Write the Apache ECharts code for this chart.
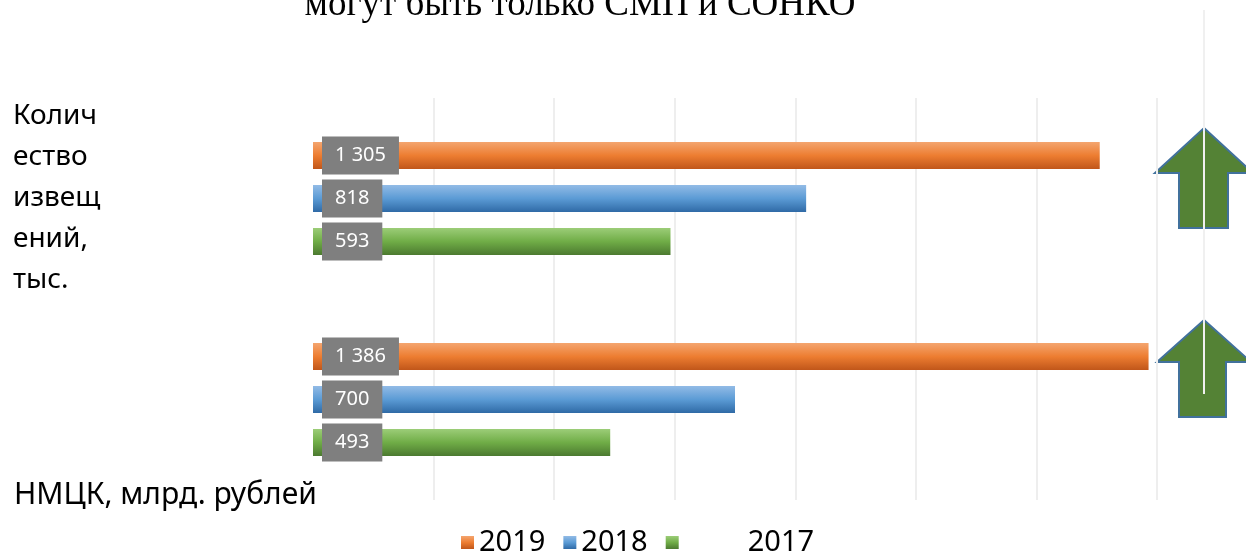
<!DOCTYPE html>
<html>
<head>
<meta charset="utf-8">
<script src="https://cdn.jsdelivr.net/npm/echarts@6/dist/echarts.min.js"></script>
<style>
  html, body { margin: 0; padding: 0; background: #fff; }
  #chart { width: 1246px; height: 551px; }
</style>
</head>
<body>
<div id="chart"></div>
<script>
// данные
var categories = ['Количество извещений, тыс.', 'НМЦК, млрд. рублей'];
var categoryText = ['Колич\nество\nизвещ\nений,\nтыс.', 'НМЦК, млрд. рублей'];
var seriesNames = ['2019', '2018', '2017'];
var values2019 = [1305, 1386];
var values2018 = [818, 700];
var values2017 = [593, 493];
var titleText = 'могут быть только СМП и СОНКО';

function grad(top, mid, bottom) {
  return new echarts.graphic.LinearGradient(0, 0, 0, 1, [
    { offset: 0, color: top },
    { offset: 0.5, color: mid },
    { offset: 1, color: bottom }
  ]);
}

function fmt(p) {
  return String(p.value).replace(/\B(?=(\d{3})+(?!\d))/g, ' ');
}

var label = {
  show: true,
  position: 'insideLeft',
  distance: 9,
  formatter: fmt,
  color: '#fff',
  backgroundColor: '#7f7f7f',
  padding: [9, 13],
  fontSize: 20,
  fontFamily: 'Noto Sans'
};

var myChart = echarts.init(document.getElementById('chart'));

var option = {
  animation: false,
  textStyle: { fontFamily: 'Noto Sans' },
  grid: { left: 313, right: 89, top: 98, bottom: 51 },
  legend: {
    data: seriesNames,
    left: 456,
    top: 523,
    icon: 'rect',
    itemWidth: 13,
    itemHeight: 13,
    itemGap: 18,
    textStyle: {
      fontSize: 29,
      color: '#000',
      rich: { pad: { width: 64 } }
    },
    formatter: function (name) {
      return name === '2017' ? '{pad|}' + name : name;
    }
  },
  xAxis: {
    type: 'value',
    min: 0,
    max: 1400,
    interval: 200,
    axisLine: { show: false },
    axisTick: { show: false },
    axisLabel: { show: false },
    splitLine: {
      showMinLine: false,
      lineStyle: { color: '#eeeeee', width: 2 }
    }
  },
  yAxis: {
    type: 'category',
    data: categories,
    inverse: true,
    axisLine: { show: false },
    axisTick: { show: false },
    axisLabel: { show: false }
  },
  series: [
    {
      name: seriesNames[0],
      type: 'bar',
      data: values2019,
      barWidth: 27,
      barGap: '59%',
      itemStyle: { color: grad('#f4a56f', '#ed7d31', '#c0561a') },
      label: label
    },
    {
      name: seriesNames[1],
      type: 'bar',
      data: values2018,
      barWidth: 27,
      barGap: '59%',
      itemStyle: { color: grad('#92bbe6', '#5b9bd5', '#2f6aa6') },
      label: label
    },
    {
      name: seriesNames[2],
      type: 'bar',
      data: values2017,
      barWidth: 27,
      barGap: '59%',
      itemStyle: { color: grad('#9ccd78', '#70ad47', '#4c7a30') },
      label: label
    }
  ],
  graphic: [
    {
      type: 'text', x: 580, y: 5,
      style: {
        text: titleText, font: '37px "Liberation Serif"', fill: '#000',
        textAlign: 'center', textVerticalAlign: 'middle'
      }
    },
    {
      type: 'text', x: 13, y: 198,
      style: {
        text: categoryText[0], font: '28px "Noto Sans"', fill: '#000',
        lineHeight: 41, textAlign: 'left', textVerticalAlign: 'middle'
      }
    },
    {
      type: 'text', x: 14, y: 495,
      style: {
        text: categoryText[1], font: '30px "Noto Sans"', fill: '#000',
        textAlign: 'left', textVerticalAlign: 'middle'
      }
    },
    // стрелки
    {
      type: 'polygon',
      shape: { points: [[1204, 128], [1253, 173], [1228, 173], [1228, 228], [1179, 228], [1179, 173], [1155, 173]] },
      style: { fill: '#548235', stroke: '#41719c', lineWidth: 2 }
    },
    {
      type: 'polygon',
      shape: { points: [[1204, 320], [1251, 362], [1226, 362], [1226, 417], [1179, 417], [1179, 362], [1157, 362]] },
      style: { fill: '#548235', stroke: '#41719c', lineWidth: 2 }
    },
    {
      type: 'line',
      shape: { x1: 1204, y1: 10, x2: 1204, y2: 394 },
      style: { stroke: '#f0f0f0', lineWidth: 2 },
      z: 10
    }
  ]
};

myChart.setOption(option);
</script>
</body>
</html>
